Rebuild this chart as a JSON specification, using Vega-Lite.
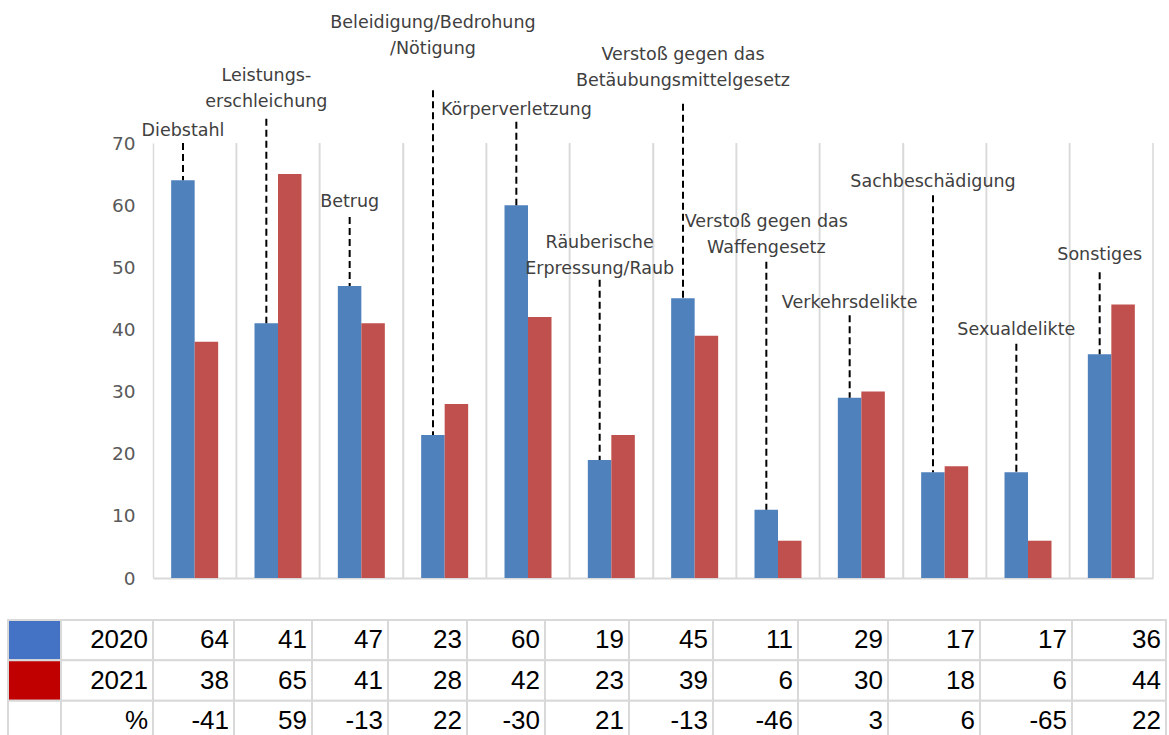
{
  "$schema": "https://vega.github.io/schema/vega-lite/v6.json",
  "padding": {"left": 7, "top": 13, "right": 0, "bottom": 0},
  "background": "#ffffff",
  "config": {"view": {"stroke": null}},
  "spacing": 31,
  "datasets": {
    "bars": [
      {"cat": "Diebstahl", "year": "2020", "value": 64},
      {"cat": "Diebstahl", "year": "2021", "value": 38},
      {"cat": "Leistungserschleichung", "year": "2020", "value": 41},
      {"cat": "Leistungserschleichung", "year": "2021", "value": 65},
      {"cat": "Betrug", "year": "2020", "value": 47},
      {"cat": "Betrug", "year": "2021", "value": 41},
      {"cat": "Beleidigung/Bedrohung/Nötigung", "year": "2020", "value": 23},
      {"cat": "Beleidigung/Bedrohung/Nötigung", "year": "2021", "value": 28},
      {"cat": "Körperverletzung", "year": "2020", "value": 60},
      {"cat": "Körperverletzung", "year": "2021", "value": 42},
      {"cat": "Räuberische Erpressung/Raub", "year": "2020", "value": 19},
      {"cat": "Räuberische Erpressung/Raub", "year": "2021", "value": 23},
      {"cat": "Verstoß gegen das Betäubungsmittelgesetz", "year": "2020", "value": 45},
      {"cat": "Verstoß gegen das Betäubungsmittelgesetz", "year": "2021", "value": 39},
      {"cat": "Verstoß gegen das Waffengesetz", "year": "2020", "value": 11},
      {"cat": "Verstoß gegen das Waffengesetz", "year": "2021", "value": 6},
      {"cat": "Verkehrsdelikte", "year": "2020", "value": 29},
      {"cat": "Verkehrsdelikte", "year": "2021", "value": 30},
      {"cat": "Sachbeschädigung", "year": "2020", "value": 17},
      {"cat": "Sachbeschädigung", "year": "2021", "value": 18},
      {"cat": "Sexualdelikte", "year": "2020", "value": 17},
      {"cat": "Sexualdelikte", "year": "2021", "value": 6},
      {"cat": "Sonstiges", "year": "2020", "value": 36},
      {"cat": "Sonstiges", "year": "2021", "value": 44}
    ],
    "notes": [
      {"cat": "Diebstahl", "label": "Diebstahl", "labelY": 70.5, "lineTop": 70.0},
      {"cat": "Leistungserschleichung", "label": "Leistungs-\nerschleichung", "labelY": 79.4, "lineTop": 73.9},
      {"cat": "Betrug", "label": "Betrug", "labelY": 59.1, "lineTop": 58.1},
      {"cat": "Beleidigung/Bedrohung/Nötigung", "label": "Beleidigung/Bedrohung\n/Nötigung", "labelY": 87.9, "lineTop": 78.5},
      {"cat": "Körperverletzung", "label": "Körperverletzung", "labelY": 73.9, "lineTop": 73.4},
      {"cat": "Räuberische Erpressung/Raub", "label": "Räuberische\nErpressung/Raub", "labelY": 52.5, "lineTop": 48.0},
      {"cat": "Verstoß gegen das Betäubungsmittelgesetz", "label": "Verstoß gegen das\nBetäubungsmittelgesetz", "labelY": 82.7, "lineTop": 76.3},
      {"cat": "Verstoß gegen das Waffengesetz", "label": "Verstoß gegen das\nWaffengesetz", "labelY": 55.9, "lineTop": 50.9},
      {"cat": "Verkehrsdelikte", "label": "Verkehrsdelikte", "labelY": 42.8, "lineTop": 42.3},
      {"cat": "Sachbeschädigung", "label": "Sachbeschädigung", "labelY": 62.3, "lineTop": 61.6},
      {"cat": "Sexualdelikte", "label": "Sexualdelikte", "labelY": 38.5, "lineTop": 37.7},
      {"cat": "Sonstiges", "label": "Sonstiges", "labelY": 50.5, "lineTop": 49.2}
    ],
    "table": [
      {"col": "sw", "row": "2020", "text": ""},
      {"col": "sw", "row": "2021", "text": ""},
      {"col": "sw", "row": "%", "text": ""},
      {"col": "lbl", "row": "2020", "text": "2020"},
      {"col": "lbl", "row": "2021", "text": "2021"},
      {"col": "lbl", "row": "%", "text": "%"},
      {"col": "Diebstahl", "row": "2020", "text": 64},
      {"col": "Diebstahl", "row": "2021", "text": 38},
      {"col": "Diebstahl", "row": "%", "text": -41},
      {"col": "Leistungserschleichung", "row": "2020", "text": 41},
      {"col": "Leistungserschleichung", "row": "2021", "text": 65},
      {"col": "Leistungserschleichung", "row": "%", "text": 59},
      {"col": "Betrug", "row": "2020", "text": 47},
      {"col": "Betrug", "row": "2021", "text": 41},
      {"col": "Betrug", "row": "%", "text": -13},
      {"col": "Beleidigung/Bedrohung/Nötigung", "row": "2020", "text": 23},
      {"col": "Beleidigung/Bedrohung/Nötigung", "row": "2021", "text": 28},
      {"col": "Beleidigung/Bedrohung/Nötigung", "row": "%", "text": 22},
      {"col": "Körperverletzung", "row": "2020", "text": 60},
      {"col": "Körperverletzung", "row": "2021", "text": 42},
      {"col": "Körperverletzung", "row": "%", "text": -30},
      {"col": "Räuberische Erpressung/Raub", "row": "2020", "text": 19},
      {"col": "Räuberische Erpressung/Raub", "row": "2021", "text": 23},
      {"col": "Räuberische Erpressung/Raub", "row": "%", "text": 21},
      {"col": "Verstoß gegen das Betäubungsmittelgesetz", "row": "2020", "text": 45},
      {"col": "Verstoß gegen das Betäubungsmittelgesetz", "row": "2021", "text": 39},
      {"col": "Verstoß gegen das Betäubungsmittelgesetz", "row": "%", "text": -13},
      {"col": "Verstoß gegen das Waffengesetz", "row": "2020", "text": 11},
      {"col": "Verstoß gegen das Waffengesetz", "row": "2021", "text": 6},
      {"col": "Verstoß gegen das Waffengesetz", "row": "%", "text": -46},
      {"col": "Verkehrsdelikte", "row": "2020", "text": 29},
      {"col": "Verkehrsdelikte", "row": "2021", "text": 30},
      {"col": "Verkehrsdelikte", "row": "%", "text": 3},
      {"col": "Sachbeschädigung", "row": "2020", "text": 17},
      {"col": "Sachbeschädigung", "row": "2021", "text": 18},
      {"col": "Sachbeschädigung", "row": "%", "text": 6},
      {"col": "Sexualdelikte", "row": "2020", "text": 17},
      {"col": "Sexualdelikte", "row": "2021", "text": 6},
      {"col": "Sexualdelikte", "row": "%", "text": -65},
      {"col": "Sonstiges", "row": "2020", "text": 36},
      {"col": "Sonstiges", "row": "2021", "text": 44},
      {"col": "Sonstiges", "row": "%", "text": 22}
    ]
  },
  "vconcat": [
    {
      "spacing": 0,
      "hconcat": [
        {
          "width": 1, "height": 435,
          "data": {"values": []},
          "mark": {"type": "point", "opacity": 0}
        },
        {
          "width": 1000,
          "height": 435,
          "data": {"name": "bars"},
          "encoding": {
            "x": {
              "field": "cat", "type": "nominal", "sort": null,
              "scale": {"paddingInner": 0, "paddingOuter": 0},
              "axis": {"title": null, "labels": false, "ticks": false, "domain": true, "domainColor": "#d9d9d9", "domainWidth": 2, "grid": true, "gridColor": "#d9d9d9", "gridWidth": 1.5, "bandPosition": 0}
            }
          },
          "layer": [
            {
              "mark": {"type": "rule", "color": "#d9d9d9", "strokeWidth": 1.5},
              "transform": [{"filter": "datum.year === '2020'"}],
              "encoding": {"x": {"field": "cat", "type": "nominal", "sort": null, "bandPosition": 1}}
            },
            {
              "mark": {"type": "bar"},
              "encoding": {
                "xOffset": {"field": "year", "type": "nominal", "scale": {"paddingInner": 0, "paddingOuter": 0.773}},
                "y": {
                  "field": "value", "type": "quantitative",
                  "scale": {"domain": [0, 70], "nice": false, "zero": true},
                  "axis": {"title": null, "values": [0, 10, 20, 30, 40, 50, 60, 70], "domain": false, "ticks": false, "tickSize": 0, "grid": false, "labelPadding": 18, "minExtent": 144, "labelFont": "DejaVu Sans", "labelFontSize": 18.5, "labelColor": "#595959"}
                },
                "color": {"field": "year", "type": "nominal", "scale": {"domain": ["2020", "2021"], "range": ["#4F81BD", "#C0504D"]}, "legend": null}
              }
            },
            {
              "transform": [
                {"filter": "datum.year === '2020'"},
                {"lookup": "cat", "from": {"data": {"name": "notes"}, "key": "cat", "fields": ["label", "labelY", "lineTop"]}}
              ],
              "layer": [
                {
                  "mark": {"type": "rule", "color": "#000000", "strokeWidth": 2, "strokeDash": [7, 4]},
                  "encoding": {
                    "x": {"field": "cat", "type": "nominal", "sort": null, "bandPosition": 0.36},
                    "y": {"field": "lineTop", "type": "quantitative"},
                    "y2": {"field": "value"}
                  }
                },
                {
                  "mark": {"type": "text", "align": "center", "baseline": "bottom", "lineBreak": "\n", "lineHeight": 26, "font": "DejaVu Sans", "fontSize": 17.5, "color": "#404040"},
                  "encoding": {
                    "x": {"field": "cat", "type": "nominal", "sort": null, "bandPosition": 0.36},
                    "y": {"field": "labelY", "type": "quantitative"},
                    "text": {"field": "label", "type": "nominal"}
                  }
                }
              ]
            }
          ]
        }
      ]
    },
    {
      "data": {"name": "table"},
      "spacing": 0,
      "bounds": "flush",
      "hconcat": [
        {
          "width": 53, "height": 121,
          "transform": [{"filter": {"field": "col", "equal": "sw"}}],
          "mark": {"type": "rect", "stroke": "#d9d9d9", "strokeWidth": 2},
          "encoding": {
            "y": {"field": "row", "type": "nominal", "sort": ["2020", "2021", "%"], "axis": null, "scale": {"paddingInner": 0, "paddingOuter": 0}},
            "x": {"value": 0}, "x2": {"value": "width"},
            "fill": {"field": "row", "type": "nominal", "scale": {"domain": ["2020", "2021", "%"], "range": ["#4472C4", "#C00000", "#ffffff"]}, "legend": null}
          }
        },
        {
          "width": 92, "height": 121,
          "transform": [{"filter": {"field": "col", "equal": "lbl"}}],
          "encoding": {"y": {"field": "row", "type": "nominal", "sort": ["2020", "2021", "%"], "axis": null, "scale": {"paddingInner": 0, "paddingOuter": 0}}},
          "layer": [
            {"mark": {"type": "rect", "fill": "#ffffff", "stroke": "#d9d9d9", "strokeWidth": 2}, "encoding": {"x": {"value": 0}, "x2": {"value": "width"}}},
            {"mark": {"type": "text", "align": "right", "dx": -5, "font": "Liberation Sans", "fontSize": 26, "color": "#000000"}, "encoding": {"x": {"value": "width"}, "text": {"field": "text", "type": "nominal"}}}
          ]
        },
        {
          "width": 81, "height": 121,
          "transform": [{"filter": {"field": "col", "equal": "Diebstahl"}}],
          "encoding": {"y": {"field": "row", "type": "nominal", "sort": ["2020", "2021", "%"], "axis": null, "scale": {"paddingInner": 0, "paddingOuter": 0}}},
          "layer": [
            {"mark": {"type": "rect", "fill": "#ffffff", "stroke": "#d9d9d9", "strokeWidth": 2}, "encoding": {"x": {"value": 0}, "x2": {"value": "width"}}},
            {"mark": {"type": "text", "align": "right", "dx": -5, "font": "Liberation Sans", "fontSize": 26, "color": "#000000"}, "encoding": {"x": {"value": "width"}, "text": {"field": "text", "type": "nominal"}}}
          ]
        },
        {
          "width": 78, "height": 121,
          "transform": [{"filter": {"field": "col", "equal": "Leistungserschleichung"}}],
          "encoding": {"y": {"field": "row", "type": "nominal", "sort": ["2020", "2021", "%"], "axis": null, "scale": {"paddingInner": 0, "paddingOuter": 0}}},
          "layer": [
            {"mark": {"type": "rect", "fill": "#ffffff", "stroke": "#d9d9d9", "strokeWidth": 2}, "encoding": {"x": {"value": 0}, "x2": {"value": "width"}}},
            {"mark": {"type": "text", "align": "right", "dx": -5, "font": "Liberation Sans", "fontSize": 26, "color": "#000000"}, "encoding": {"x": {"value": "width"}, "text": {"field": "text", "type": "nominal"}}}
          ]
        },
        {
          "width": 76, "height": 121,
          "transform": [{"filter": {"field": "col", "equal": "Betrug"}}],
          "encoding": {"y": {"field": "row", "type": "nominal", "sort": ["2020", "2021", "%"], "axis": null, "scale": {"paddingInner": 0, "paddingOuter": 0}}},
          "layer": [
            {"mark": {"type": "rect", "fill": "#ffffff", "stroke": "#d9d9d9", "strokeWidth": 2}, "encoding": {"x": {"value": 0}, "x2": {"value": "width"}}},
            {"mark": {"type": "text", "align": "right", "dx": -5, "font": "Liberation Sans", "fontSize": 26, "color": "#000000"}, "encoding": {"x": {"value": "width"}, "text": {"field": "text", "type": "nominal"}}}
          ]
        },
        {
          "width": 79, "height": 121,
          "transform": [{"filter": {"field": "col", "equal": "Beleidigung/Bedrohung/Nötigung"}}],
          "encoding": {"y": {"field": "row", "type": "nominal", "sort": ["2020", "2021", "%"], "axis": null, "scale": {"paddingInner": 0, "paddingOuter": 0}}},
          "layer": [
            {"mark": {"type": "rect", "fill": "#ffffff", "stroke": "#d9d9d9", "strokeWidth": 2}, "encoding": {"x": {"value": 0}, "x2": {"value": "width"}}},
            {"mark": {"type": "text", "align": "right", "dx": -5, "font": "Liberation Sans", "fontSize": 26, "color": "#000000"}, "encoding": {"x": {"value": "width"}, "text": {"field": "text", "type": "nominal"}}}
          ]
        },
        {
          "width": 78, "height": 121,
          "transform": [{"filter": {"field": "col", "equal": "Körperverletzung"}}],
          "encoding": {"y": {"field": "row", "type": "nominal", "sort": ["2020", "2021", "%"], "axis": null, "scale": {"paddingInner": 0, "paddingOuter": 0}}},
          "layer": [
            {"mark": {"type": "rect", "fill": "#ffffff", "stroke": "#d9d9d9", "strokeWidth": 2}, "encoding": {"x": {"value": 0}, "x2": {"value": "width"}}},
            {"mark": {"type": "text", "align": "right", "dx": -5, "font": "Liberation Sans", "fontSize": 26, "color": "#000000"}, "encoding": {"x": {"value": "width"}, "text": {"field": "text", "type": "nominal"}}}
          ]
        },
        {
          "width": 84, "height": 121,
          "transform": [{"filter": {"field": "col", "equal": "Räuberische Erpressung/Raub"}}],
          "encoding": {"y": {"field": "row", "type": "nominal", "sort": ["2020", "2021", "%"], "axis": null, "scale": {"paddingInner": 0, "paddingOuter": 0}}},
          "layer": [
            {"mark": {"type": "rect", "fill": "#ffffff", "stroke": "#d9d9d9", "strokeWidth": 2}, "encoding": {"x": {"value": 0}, "x2": {"value": "width"}}},
            {"mark": {"type": "text", "align": "right", "dx": -5, "font": "Liberation Sans", "fontSize": 26, "color": "#000000"}, "encoding": {"x": {"value": "width"}, "text": {"field": "text", "type": "nominal"}}}
          ]
        },
        {
          "width": 84, "height": 121,
          "transform": [{"filter": {"field": "col", "equal": "Verstoß gegen das Betäubungsmittelgesetz"}}],
          "encoding": {"y": {"field": "row", "type": "nominal", "sort": ["2020", "2021", "%"], "axis": null, "scale": {"paddingInner": 0, "paddingOuter": 0}}},
          "layer": [
            {"mark": {"type": "rect", "fill": "#ffffff", "stroke": "#d9d9d9", "strokeWidth": 2}, "encoding": {"x": {"value": 0}, "x2": {"value": "width"}}},
            {"mark": {"type": "text", "align": "right", "dx": -5, "font": "Liberation Sans", "fontSize": 26, "color": "#000000"}, "encoding": {"x": {"value": "width"}, "text": {"field": "text", "type": "nominal"}}}
          ]
        },
        {
          "width": 85, "height": 121,
          "transform": [{"filter": {"field": "col", "equal": "Verstoß gegen das Waffengesetz"}}],
          "encoding": {"y": {"field": "row", "type": "nominal", "sort": ["2020", "2021", "%"], "axis": null, "scale": {"paddingInner": 0, "paddingOuter": 0}}},
          "layer": [
            {"mark": {"type": "rect", "fill": "#ffffff", "stroke": "#d9d9d9", "strokeWidth": 2}, "encoding": {"x": {"value": 0}, "x2": {"value": "width"}}},
            {"mark": {"type": "text", "align": "right", "dx": -5, "font": "Liberation Sans", "fontSize": 26, "color": "#000000"}, "encoding": {"x": {"value": "width"}, "text": {"field": "text", "type": "nominal"}}}
          ]
        },
        {
          "width": 90, "height": 121,
          "transform": [{"filter": {"field": "col", "equal": "Verkehrsdelikte"}}],
          "encoding": {"y": {"field": "row", "type": "nominal", "sort": ["2020", "2021", "%"], "axis": null, "scale": {"paddingInner": 0, "paddingOuter": 0}}},
          "layer": [
            {"mark": {"type": "rect", "fill": "#ffffff", "stroke": "#d9d9d9", "strokeWidth": 2}, "encoding": {"x": {"value": 0}, "x2": {"value": "width"}}},
            {"mark": {"type": "text", "align": "right", "dx": -5, "font": "Liberation Sans", "fontSize": 26, "color": "#000000"}, "encoding": {"x": {"value": "width"}, "text": {"field": "text", "type": "nominal"}}}
          ]
        },
        {
          "width": 92, "height": 121,
          "transform": [{"filter": {"field": "col", "equal": "Sachbeschädigung"}}],
          "encoding": {"y": {"field": "row", "type": "nominal", "sort": ["2020", "2021", "%"], "axis": null, "scale": {"paddingInner": 0, "paddingOuter": 0}}},
          "layer": [
            {"mark": {"type": "rect", "fill": "#ffffff", "stroke": "#d9d9d9", "strokeWidth": 2}, "encoding": {"x": {"value": 0}, "x2": {"value": "width"}}},
            {"mark": {"type": "text", "align": "right", "dx": -5, "font": "Liberation Sans", "fontSize": 26, "color": "#000000"}, "encoding": {"x": {"value": "width"}, "text": {"field": "text", "type": "nominal"}}}
          ]
        },
        {
          "width": 92, "height": 121,
          "transform": [{"filter": {"field": "col", "equal": "Sexualdelikte"}}],
          "encoding": {"y": {"field": "row", "type": "nominal", "sort": ["2020", "2021", "%"], "axis": null, "scale": {"paddingInner": 0, "paddingOuter": 0}}},
          "layer": [
            {"mark": {"type": "rect", "fill": "#ffffff", "stroke": "#d9d9d9", "strokeWidth": 2}, "encoding": {"x": {"value": 0}, "x2": {"value": "width"}}},
            {"mark": {"type": "text", "align": "right", "dx": -5, "font": "Liberation Sans", "fontSize": 26, "color": "#000000"}, "encoding": {"x": {"value": "width"}, "text": {"field": "text", "type": "nominal"}}}
          ]
        },
        {
          "width": 94, "height": 121,
          "transform": [{"filter": {"field": "col", "equal": "Sonstiges"}}],
          "encoding": {"y": {"field": "row", "type": "nominal", "sort": ["2020", "2021", "%"], "axis": null, "scale": {"paddingInner": 0, "paddingOuter": 0}}},
          "layer": [
            {"mark": {"type": "rect", "fill": "#ffffff", "stroke": "#d9d9d9", "strokeWidth": 2}, "encoding": {"x": {"value": 0}, "x2": {"value": "width"}}},
            {"mark": {"type": "text", "align": "right", "dx": -5, "font": "Liberation Sans", "fontSize": 26, "color": "#000000"}, "encoding": {"x": {"value": "width"}, "text": {"field": "text", "type": "nominal"}}}
          ]
        }
      ]
    }
  ]
}
